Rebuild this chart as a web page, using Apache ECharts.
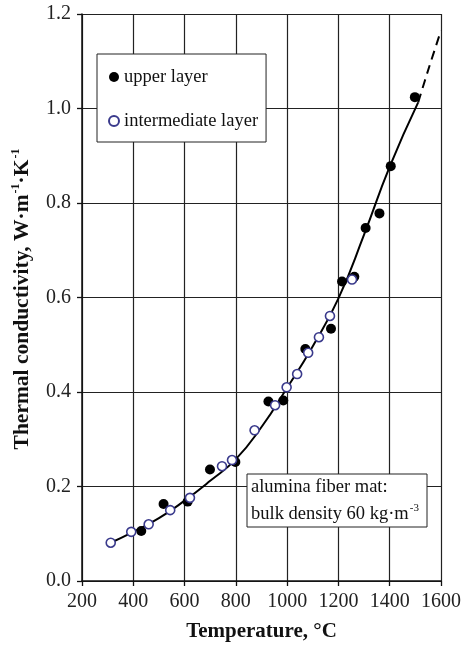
<!DOCTYPE html>
<html>
<head>
<meta charset="utf-8">
<script src="https://cdn.jsdelivr.net/npm/echarts@6/dist/echarts.min.js"></script>
<style>
html,body{margin:0;padding:0;background:#fff;}
#c{width:464px;height:647px;}
</style>
</head>
<body>
<div id="c"></div>
<script>
// Data
var upperT = [431, 518, 612, 699, 798, 927, 985, 1071, 1171, 1214, 1262, 1306, 1360, 1404, 1498];
var upperK = [0.106, 0.163, 0.168, 0.236, 0.252, 0.380, 0.382, 0.491, 0.534, 0.634, 0.644, 0.747, 0.778, 0.878, 1.024];

var interT = [312, 392, 460, 544, 621, 746, 785, 873, 953, 998, 1039, 1082, 1124, 1167, 1253];
var interK = [0.081, 0.104, 0.120, 0.150, 0.176, 0.243, 0.256, 0.319, 0.372, 0.410, 0.438, 0.483, 0.516, 0.561, 0.638];

var fitT = [312, 400, 500, 600, 700, 800, 900, 1000, 1100, 1200, 1300, 1400, 1511];
var fitK = [0.081, 0.104, 0.133, 0.170, 0.212, 0.258, 0.326, 0.409, 0.497, 0.598, 0.733, 0.877, 1.013];

var extT = [1511, 1555, 1600];
var extK = [1.013, 1.090, 1.165];

var xTicks = [200, 400, 600, 800, 1000, 1200, 1400, 1600];
var yTicks = [0.0, 0.2, 0.4, 0.6, 0.8, 1.0, 1.2];

var legendNames = ['upper layer', 'intermediate layer'];
var annotLine1 = 'alumina fiber mat:';
var annotLine2 = 'bulk density 60 kg\u00b7m';
var annotSup = '-3';
var xName = 'Temperature, \u00b0C';

function zip(a, b) { return a.map(function (v, i) { return [v, b[i]]; }); }

var FONT = '"Liberation Serif", "Times New Roman", serif';
var NAVY = '#3a3a8c';

var chart = echarts.init(document.getElementById('c'), null, {renderer: 'canvas'});

var option = {
  backgroundColor: '#fff',
  animation: false,
  grid: {left: 82, right: 20, top: 14, bottom: 61, containLabel: false},
  legend: {
    data: legendNames,
    orient: 'vertical',
    left: 97,
    top: 54,
    padding: [13, 8, 11, 11],
    itemGap: 24,
    itemWidth: 10,
    itemHeight: 10,
    backgroundColor: '#fff',
    borderColor: '#222',
    borderWidth: 1,
    borderRadius: 0,
    selectedMode: false,
    textStyle: {fontFamily: FONT, fontSize: 18.5, color: '#111', lineHeight: 20}
  },
  xAxis: {
    type: 'value',
    min: xTicks[0],
    max: xTicks[xTicks.length - 1],
    interval: 200,
    name: xName,
    nameLocation: 'middle',
    nameGap: 40,
    nameTextStyle: {fontFamily: FONT, fontSize: 21, fontWeight: 'bold', color: '#111'},
    axisLine: {show: true, lineStyle: {color: '#111', width: 1.5}},
    axisTick: {show: true, inside: false, length: 5, lineStyle: {color: '#111', width: 1.3}},
    axisLabel: {fontFamily: FONT, fontSize: 20, color: '#222', margin: 11,
      formatter: function (v) { return String(v); }},
    splitLine: {show: true, lineStyle: {color: '#222', width: 1.2}}
  },
  yAxis: {
    type: 'value',
    min: yTicks[0],
    max: yTicks[yTicks.length - 1],
    interval: 0.2,
    axisLine: {show: true, lineStyle: {color: '#111', width: 1.5}},
    axisTick: {show: true, inside: false, length: 5, lineStyle: {color: '#111', width: 1.3}},
    axisLabel: {fontFamily: FONT, fontSize: 20, color: '#222', margin: 11,
      formatter: function (v) { return v.toFixed(1); }},
    splitLine: {show: true, lineStyle: {color: '#222', width: 1.2}}
  },
  series: [
    {
      name: 'fit',
      type: 'line',
      data: zip(fitT, fitK),
      smooth: 0.5,
      showSymbol: false,
      symbol: 'none',
      lineStyle: {color: '#000', width: 2},
      z: 2,
      silent: true
    },
    {
      name: 'fit extension',
      type: 'line',
      data: zip(extT, extK),
      smooth: 0.3,
      showSymbol: false,
      symbol: 'none',
      lineStyle: {color: '#000', width: 2, type: [9, 6]},
      z: 2,
      silent: true
    },
    {
      name: legendNames[0],
      type: 'scatter',
      data: zip(upperT, upperK),
      symbol: 'circle',
      symbolSize: 10,
      itemStyle: {color: '#000', borderColor: '#000', borderWidth: 0, opacity: 1},
      z: 3
    },
    {
      name: legendNames[1],
      type: 'scatter',
      data: zip(interT, interK),
      symbol: 'circle',
      symbolSize: 9,
      itemStyle: {color: '#fff', borderColor: NAVY, borderWidth: 1.6, opacity: 1},
      z: 4
    }
  ],
  graphic: [
    {
      type: 'text',
      x: 22,
      y: 299,
      rotation: Math.PI / 2,
      style: {
        text: '{b|Thermal conductivity, W\u00b7m}{s|-1}{b|\u00b7K}{s|-1}',
        align: 'center',
        verticalAlign: 'middle',
        fill: '#111',
        rich: {
          b: {fontFamily: FONT, fontSize: 21.5, fontWeight: 'bold', fill: '#111', lineHeight: 24},
          s: {fontFamily: FONT, fontSize: 12, fontWeight: 'bold', fill: '#111', verticalAlign: 'top', lineHeight: 24, padding: [0, 0, 10, 1]}
        }
      },
      z: 100
    },
    {
      type: 'rect',
      shape: {x: 247, y: 474, width: 180, height: 53},
      style: {fill: '#fff', stroke: '#222', lineWidth: 1},
      z: 100
    },
    {
      type: 'text',
      x: 251,
      y: 487,
      style: {
        text: annotLine1,
        font: '18.5px ' + FONT,
        fill: '#111',
        align: 'left',
        verticalAlign: 'middle'
      },
      z: 101
    },
    {
      type: 'text',
      x: 251,
      y: 514,
      style: {
        text: '{n|' + annotLine2 + '}{s|' + annotSup + '}',
        align: 'left',
        verticalAlign: 'middle',
        fill: '#111',
        rich: {
          n: {fontFamily: FONT, fontSize: 18.5, fill: '#111', lineHeight: 22},
          s: {fontFamily: FONT, fontSize: 11, fill: '#111', verticalAlign: 'top', lineHeight: 22, padding: [0, 0, 10, 1]}
        }
      },
      z: 101
    }
  ]
};

chart.setOption(option);
</script>
</body>
</html>
